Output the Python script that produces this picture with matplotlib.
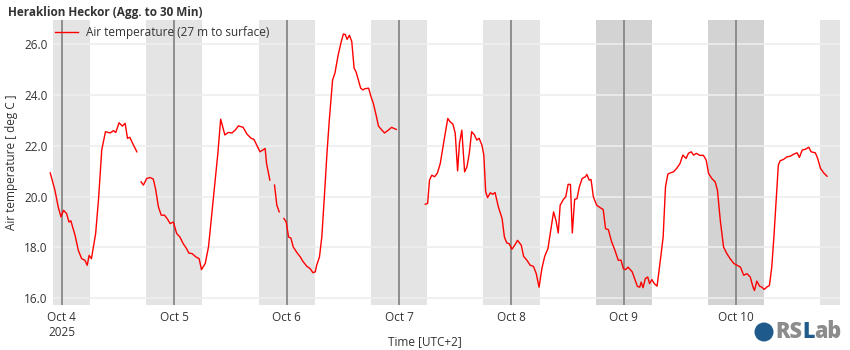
import numpy as np
import pandas as pd
import matplotlib
matplotlib.use('Agg')
import matplotlib.pyplot as plt
from matplotlib.patches import Ellipse

plt.rcParams['font.family'] = ['Open Sans', 'DejaVu Sans']

# Air temperature readings, hours after 2025-10-04 00:00 (UTC+2); NaN = gap in record
hours = [
    -2.5, -1.5, -0.8, -0.2, 0.35, 1.0, 1.5, 1.9, 2.8, 3.5, 4.2, 4.9, 5.4, 5.8, 6.3,
    7.2, 7.8, 8.5, 9.3, 10.3, 11.0, 11.5, 12.2, 12.9, 13.5, 14.0, 14.5, 15.1, 16.0,
    16.5,
    16.9, 17.4, 18.1, 18.8, 19.5, 20.0, 20.6, 21.2, 21.9, 22.6, 23.1, 23.8, 24.5,
    25.2, 25.9, 26.6, 27.1, 27.8, 28.6, 29.3, 29.8, 30.6, 31.3, 32.3, 33.3, 33.9,
    34.8, 35.5, 36.3, 37.0, 37.7, 38.7, 39.5, 40.4, 41.0, 41.6, 42.3, 43.4, 43.7, 44.4,
    44.9,
    45.4, 45.9, 46.4,
    46.9,
    47.4, 47.9, 48.4, 48.9, 49.4, 50.1, 50.9, 51.4, 52.3, 53.0, 53.6, 54.1, 54.4,
    55.0, 55.5, 56.0, 56.6, 57.1, 57.8, 58.3, 59.0, 59.6, 60.1, 60.5, 60.9, 61.4,
    61.9, 62.4, 62.8, 63.3, 63.8, 64.3, 64.7, 65.5, 66.0, 66.5, 67.1, 67.6, 68.2,
    68.9, 69.7, 70.4, 71.4,
    74.0,
    77.6, 78.1, 78.5, 79.0, 79.6, 80.2, 80.8, 81.5, 82.4, 82.9, 83.5, 84.0, 84.5,
    84.9, 85.4, 86.0, 86.5, 87.0, 87.5, 88.1, 88.6, 89.1, 89.7, 90.1, 90.5, 90.9,
    91.5, 92.0, 92.5, 93.2, 94.0, 94.5, 95.0, 95.5, 96.1, 96.7, 97.3, 98.1, 98.6,
    99.3, 100.0, 100.7, 101.3, 101.9, 102.5, 103.1, 103.8, 104.3, 105.0, 105.5,
    106.0, 106.4, 107.1, 107.6, 108.1, 108.6, 109.0, 109.5, 110.0, 110.5, 111.1,
    111.8, 112.1, 112.6, 113.0, 113.5, 114.2, 114.9, 115.6, 116.1, 116.7, 117.4,
    118.1, 118.8, 119.4, 119.9, 120.4, 120.9, 121.8, 122.3, 122.9, 123.4, 123.7,
    124.1, 124.6, 125.1, 125.5, 126.0, 126.5, 127.1, 127.8, 128.4, 128.9, 129.4,
    129.9, 130.6, 131.3, 132.0, 132.6, 133.3, 133.8, 134.4, 134.9, 135.5, 136.2,
    137.0, 137.6, 138.1, 138.8, 139.5, 140.0, 140.6, 141.3, 142.0, 142.7, 143.5,
    144.2, 144.9, 145.6, 146.3, 147.0, 147.6, 147.9, 148.4, 149.0, 149.5, 150.0,
    150.5, 151.1, 151.6, 152.1, 152.7, 153.0, 153.4, 154.1, 154.8, 155.6, 156.3,
    157.0, 157.5, 158.1, 158.8, 159.5, 160.0, 160.9, 161.4, 162.0, 162.7, 163.4,
]
temps = [
    20.93, 20.25, 19.6, 19.2, 19.46, 19.33, 19.0, 19.05, 18.48, 17.89, 17.56, 17.5, 17.3, 17.69, 17.56,
    18.55, 19.86, 21.83, 22.55, 22.5, 22.59, 22.52, 22.9, 22.77, 22.88, 22.29, 22.33, 22.09, 21.76,
    np.nan,
    20.58, 20.45, 20.71, 20.75, 20.69, 20.3, 19.6, 19.27, 19.27, 19.1, 18.94, 19.0, 18.55,
    18.41, 18.15, 17.96, 17.78, 17.76, 17.63, 17.56, 17.13, 17.37, 18.02, 19.86, 21.7, 23.04,
    22.42, 22.52, 22.5, 22.61, 22.78, 22.72, 22.46, 22.29, 22.25, 22.02, 21.76, 21.89, 21.3, 20.65,
    np.nan,
    20.45, 19.66, 19.4,
    np.nan,
    19.14, 19.0, 18.41, 18.37, 18.02, 17.82, 17.63, 17.47, 17.26, 17.17, 17.01, 17.04, 17.3,
    17.63, 18.41, 19.86, 21.7, 23.0, 24.58, 24.85, 25.57, 26.05, 26.39, 26.37, 26.18, 26.34,
    26.09, 25.04, 24.91, 24.58, 24.26, 24.19, 24.24, 24.26, 23.93, 23.67, 23.2, 22.77, 22.64,
    22.5, 22.61, 22.72, 22.64,
    np.nan,
    19.7, 19.73, 20.65, 20.84, 20.78, 20.93, 21.3, 22.09, 23.07, 22.94, 22.85, 22.48, 21.01,
    22.09, 22.61, 20.97, 21.17, 21.7, 22.55, 22.42, 22.22, 22.29, 22.02, 21.63, 20.19, 19.96,
    20.15, 20.09, 20.16, 19.6, 19.14, 18.41, 18.18, 18.15, 17.93, 18.09, 18.28, 18.09, 17.65,
    17.5, 17.3, 17.26, 16.97, 16.44, 17.17, 17.65, 17.96, 18.55, 19.4, 19.07,
    18.57, 19.66, 19.89, 19.99, 20.48, 20.48, 18.57, 19.89, 19.92, 20.38, 20.71,
    20.78, 20.87, 20.65, 20.67, 19.99, 19.66, 19.57, 19.49, 18.74, 18.7, 18.22,
    17.89, 17.5, 17.5, 17.17, 17.13, 17.23, 17.04, 16.78, 16.47, 16.44, 16.64,
    16.42, 16.78, 16.84, 16.58, 16.74, 16.58, 16.48, 17.5, 18.41, 20.38, 20.88,
    20.93, 20.97, 21.11, 21.3, 21.63, 21.5, 21.7, 21.76, 21.63, 21.7, 21.62,
    21.62, 21.43, 20.91, 20.71, 20.58, 20.25, 19.07, 18.02, 17.76, 17.56, 17.37,
    17.3, 17.23, 16.91, 16.97, 16.84, 16.44, 16.31, 16.68, 16.48, 16.44, 16.35,
    16.44, 16.51, 17.23, 18.55, 20.38, 21.24, 21.41, 21.46, 21.56, 21.59, 21.67,
    21.72, 21.54, 21.83, 21.86, 21.94, 21.76, 21.72, 21.5, 21.11, 20.93, 20.8,
]

start = pd.Timestamp('2025-10-04 00:00')
times = start + pd.to_timedelta(hours, unit='h')

# night shading (18:00 - 06:00), hours after start
night_start = [-24, 18, 42, 66, 90, 114, 138, 162]
night_end = [6, 30, 54, 78, 102, 126, 150, 174]
night_dark = [False, False, False, False, False, True, True, False]

day_ticks = pd.date_range('2025-10-04', '2025-10-10', freq='D')
day_labels = ['Oct 4\n2025', 'Oct 5', 'Oct 6', 'Oct 7', 'Oct 8', 'Oct 9', 'Oct 10']

x_min = start + pd.Timedelta(hours=-1.9)
x_max = start + pd.Timedelta(hours=166.2)

fig = plt.figure(figsize=(8.5, 3.5), dpi=100)
ax = fig.add_axes([0.0624, 0.1286, 0.926, 0.8143])

for s, e, dark in zip(night_start, night_end, night_dark):
    ax.axvspan(start + pd.Timedelta(hours=s), start + pd.Timedelta(hours=e),
               color='#d3d3d3' if dark else '#e4e4e4', lw=0, zorder=0)

for y in [16, 18, 20, 22, 24, 26]:
    ax.axhline(y, color='#eeeeee', lw=1.2, zorder=1)

for d in day_ticks:
    ax.axvline(d, color='#888888', lw=1.3, zorder=2)

ax.plot(times, temps, color='#ff0000', lw=1.0, zorder=3, clip_on=False,
        label='Air temperature (27 m to surface)')

ax.set_xlim(x_min, x_max)
ax.set_ylim(15.74, 26.94)
ax.set_yticks([16, 18, 20, 22, 24, 26])
ax.set_yticklabels(['16.0', '18.0', '20.0', '22.0', '24.0', '26.0'])
ax.set_xticks(day_ticks)
ax.set_xticklabels(day_labels)
ax.tick_params(length=0, labelsize=8.5, colors='#333333', pad=4)
for sp in ax.spines.values():
    sp.set_visible(False)

ax.set_ylabel('Air temperature [ deg C ]', fontsize=8.5, color='#333333', labelpad=4)
fig.text(0.5, 0.025, 'Time [UTC+2]', ha='center', va='center', fontsize=8.5, color='#333333')
fig.text(0.009, 0.965, 'Heraklion Heckor (Agg. to 30 Min)', ha='left', va='center',
         fontsize=8.5, fontweight='bold', color='#333333')

leg = ax.legend(loc='upper left', bbox_to_anchor=(-0.006, 1.005), frameon=False,
                fontsize=8.5, handlelength=1.9, handletextpad=0.7, borderaxespad=0.2)
for t in leg.get_texts():
    t.set_color('#333333')

# RSLab logo
fig.patches.append(Ellipse((764 / 850, 1 - 332 / 350), 19 / 850, 19 / 350,
                           transform=fig.transFigure, facecolor='#1f5a8c',
                           edgecolor='none', zorder=5))
logo_style = dict(fontsize=15.5, fontweight='heavy', fontstretch='condensed')
t_rs = fig.text(775 / 850, 1 - 332 / 350, 'RS', ha='left', va='center',
                color='#8c8c8c', **logo_style)
t_l = ax.annotate('L', xy=(1, 0), xycoords=t_rs, ha='left', va='bottom',
                  color='#1f5a8c', annotation_clip=False, **logo_style)
ax.annotate('ab', xy=(1, 0), xycoords=t_l, ha='left', va='bottom',
            color='#8c8c8c', annotation_clip=False, **logo_style)

fig.savefig('out.png', dpi=100)
